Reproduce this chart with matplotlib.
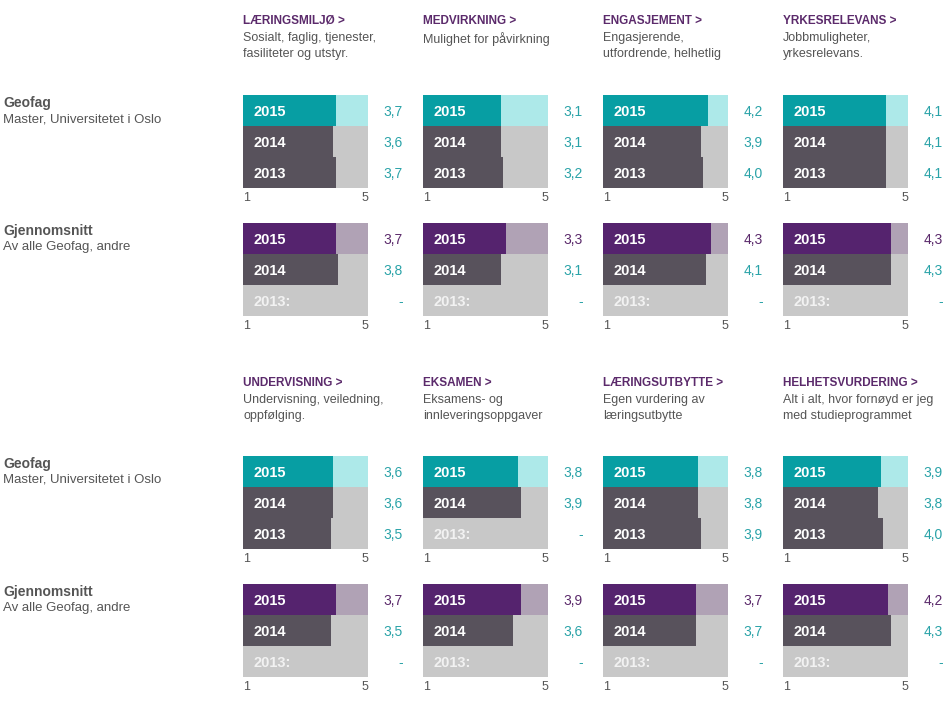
import numpy as np
import matplotlib
matplotlib.use("Agg")
import matplotlib.pyplot as plt

plt.rcParams['font.family'] = ['Liberation Sans', 'DejaVu Sans']

# Data
years = ["2015", "2014", "2013"]
titles_top = ["LÆRINGSMILJØ >", "MEDVIRKNING >", "ENGASJEMENT >", "YRKESRELEVANS >"]
desc_top = ["Sosialt, faglig, tjenester,\nfasiliteter og utstyr.", "Mulighet for påvirkning",
            "Engasjerende,\nutfordrende, helhetlig", "Jobbmuligheter,\nyrkesrelevans."]
titles_bot = ["UNDERVISNING >", "EKSAMEN >", "LÆRINGSUTBYTTE >", "HELHETSVURDERING >"]
desc_bot = ["Undervisning, veiledning,\noppfølging.", "Eksamens- og\ninnleveringsoppgaver",
            "Egen vurdering av\nlæringsutbytte", "Alt i alt, hvor fornøyd er jeg\nmed studieprogrammet"]

geofag_top = [[3.7, 3.6, 3.7], [3.1, 3.1, 3.2], [4.2, 3.9, 4.0], [4.1, 4.1, 4.1]]
snitt_top = [[3.7, 3.8, None], [3.3, 3.1, None], [4.3, 4.1, None], [4.3, 4.3, None]]
geofag_bot = [[3.6, 3.6, 3.5], [3.8, 3.9, None], [3.8, 3.8, 3.9], [3.9, 3.8, 4.0]]
snitt_bot = [[3.7, 3.5, None], [3.9, 3.6, None], [3.7, 3.7, None], [4.2, 4.3, None]]

row_names = [("Geofag", "Master, Universitetet i Oslo"), ("Gjennomsnitt", "Av alle Geofag, andre")]

TEAL = "#079ea3"
LTEAL = "#ade9e9"
DARK = "#58525c"
GRAY = "#c8c8c8"
PURPLE = "#55236e"
LPURPLE = "#b0a2b5"
TITLE = "#5b2a6b"
TXT = "#555555"
VTEAL = "#2aa3a8"

W, H = 951, 721
fig = plt.figure(figsize=(W / 100, H / 100), dpi=100)


def fx(x):
    return x / W


def fy(y):
    return 1 - y / H


col_x = [243, 423, 603, 783]
block_y = [95, 223, 456, 584]


def panel(x0, y0, vals, main, light, main_val_color):
    ax = fig.add_axes([fx(x0), fy(y0 + 93), 125 / W, 93 / H])
    ax.set_xlim(0, 5)
    ax.set_ylim(3, 0)
    ax.axis("off")
    for i, v in enumerate(vals):
        bg = light if i == 0 else GRAY
        ax.barh(i + 0.5, 5, height=1, color=bg, align="center")
        if v is None:
            ax.text(0.4, i + 0.55, years[i] + ":", color="#f2f2f2", fontsize=10.5,
                    fontweight="bold", va="center", ha="left")
            ax.text(6.4, i + 0.55, "-", color=VTEAL, fontsize=10, va="center",
                    ha="right", clip_on=False)
        else:
            c = main if i == 0 else DARK
            ax.barh(i + 0.5, v, height=1, color=c, align="center")
            ax.text(0.4, i + 0.55, years[i], color="white", fontsize=10.5,
                    fontweight="bold", va="center", ha="left")
            vc = main_val_color if i == 0 else VTEAL
            ax.text(6.4, i + 0.55, f"{v:.1f}".replace(".", ","), color=vc,
                    fontsize=10, va="center", ha="right", clip_on=False)
    ax.text(0, 3.33, "1", color=TXT, fontsize=9, va="center", ha="left", clip_on=False)
    ax.text(5, 3.33, "5", color=TXT, fontsize=9, va="center", ha="right", clip_on=False)


sections = [
    (titles_top, desc_top, geofag_top, snitt_top, 21, block_y[0], block_y[1]),
    (titles_bot, desc_bot, geofag_bot, snitt_bot, 383, block_y[2], block_y[3]),
]

for titles, descs, geo, snitt, ty, yb1, yb2 in sections:
    for j in range(4):
        x0 = col_x[j]
        fig.text(fx(x0), fy(ty), titles[j], color=TITLE, fontsize=8.5,
                 fontweight="bold", va="center", ha="left")
        fig.text(fx(x0), fy(ty + 11), descs[j], color=TXT, fontsize=9,
                 va="top", ha="left", linespacing=1.4)
        panel(x0, yb1, geo[j], TEAL, LTEAL, VTEAL)
        panel(x0, yb2, snitt[j], PURPLE, LPURPLE, TITLE)
    for (name, sub), yb in zip(row_names, [yb1, yb2]):
        fig.text(fx(3), fy(yb + 8), name, color=TXT, fontsize=10,
                 fontweight="bold", va="center", ha="left")
        fig.text(fx(3), fy(yb + 24), sub, color=TXT, fontsize=9.5,
                 va="center", ha="left")

fig.savefig("out.png", dpi=100, facecolor="white")
